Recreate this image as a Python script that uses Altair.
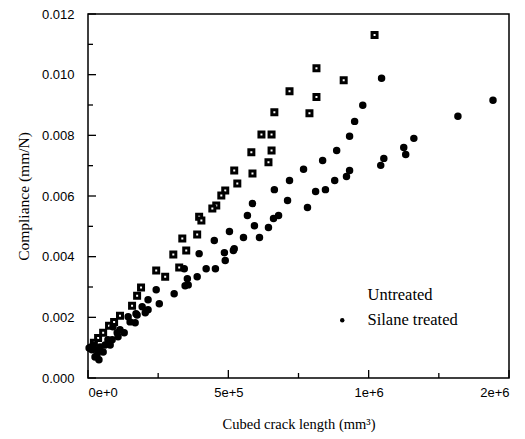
import altair as alt
import pandas as pd

# Untreated: cubed crack length (mm^3), compliance (mm/N)
untreated_x = [1021000, 814000, 911000, 718000, 814000, 664000, 789000, 618000, 654000,
               582000, 654000, 643000, 521000, 586000, 532000, 489000, 475000, 457000,
               443000, 396000, 404000, 336000, 389000, 304000, 350000, 243000, 275000,
               325000, 189000, 175000, 157000, 114000, 93000, 75000, 54000, 36000, 21000, 14000]
untreated_y = [0.01131, 0.01021, 0.00982, 0.00945, 0.00926, 0.00876, 0.00873, 0.00803, 0.00803,
               0.00744, 0.00750, 0.00711, 0.00684, 0.00674, 0.00641, 0.00618, 0.00602, 0.00569,
               0.00559, 0.00532, 0.00519, 0.00460, 0.00473, 0.00407, 0.00420, 0.00354, 0.00334,
               0.00364, 0.00298, 0.00271, 0.00238, 0.00205, 0.00185, 0.00172, 0.00149, 0.00132,
               0.00116, 0.00099]

silane_x = [1443000, 1318000, 1161000, 1125000, 1132000, 1054000, 1043000, 1046000, 979000,
            950000, 932000, 886000, 836000, 768000, 718000, 664000, 586000, 568000, 504000,
            450000, 396000, 343000, 932000, 921000, 879000, 846000, 811000, 782000, 711000,
            679000, 661000, 643000, 593000, 611000, 554000, 521000, 518000, 486000, 489000,
            454000, 421000, 389000, 354000, 357000, 346000, 307000, 254000, 214000, 204000,
            243000, 214000, 193000, 171000, 143000, 168000, 129000, 107000, 86000, 61000,
            36000, 25000, 14000, 4000, 43000, 71000, 104000, 150000, 89000, 32000, 54000,
            18000, 175000, 114000, 79000, 39000]
silane_y = [0.00916, 0.00863, 0.00790, 0.00760, 0.00737, 0.00724, 0.00701, 0.00988, 0.00899,
            0.00846, 0.00797, 0.00750, 0.00717, 0.00688, 0.00651, 0.00621, 0.00575, 0.00536,
            0.00483, 0.00453, 0.00410, 0.00360, 0.00684, 0.00664, 0.00651, 0.00621, 0.00615,
            0.00562, 0.00585, 0.00536, 0.00526, 0.00496, 0.00502, 0.00463, 0.00463, 0.00426,
            0.00420, 0.00413, 0.00387, 0.00360, 0.00360, 0.00334, 0.00327, 0.00307, 0.00304,
            0.00278, 0.00245, 0.00225, 0.00215, 0.00291, 0.00258, 0.00235, 0.00212, 0.00202,
            0.00182, 0.00149, 0.00136, 0.00126, 0.00109, 0.00093, 0.00069, 0.00093, 0.00099,
            0.00102, 0.00126, 0.00149, 0.00185, 0.00169, 0.00076, 0.00086, 0.00109, 0.00208,
            0.00159, 0.00109, 0.00060]

x_major = [0, 500000, 1000000, 1500000]
x_minor = [250000, 750000, 1250000]
y_major = [0.0, 0.002, 0.004, 0.006, 0.008, 0.010, 0.012]
y_minor = [0.001, 0.003, 0.005, 0.007, 0.009, 0.011]
series_names = ["Untreated", "Silane treated"]

W, H = 421, 364
XMAX, YMAX = 1500000, 0.012
SANS = "Liberation Sans"
SERIF = "Liberation Serif"

xscale = alt.Scale(domain=[0, XMAX], nice=False, zero=False)
yscale = alt.Scale(domain=[0, YMAX], nice=False)

# one table for both series
points = pd.concat([
    pd.DataFrame({"x": untreated_x, "y": untreated_y, "series": series_names[0]}),
    pd.DataFrame({"x": silane_x, "y": silane_y, "series": series_names[1]}),
], ignore_index=True)

# inward tick segments (lengths in pixels converted to data units)
MAJ, MIN = 8, 5
ky = YMAX / H
kx = XMAX / W
tick_rows = []
for v in x_major:
    tick_rows.append({"x": v, "x2": v, "y": 0.0, "y2": MAJ * ky})
for v in x_minor:
    tick_rows.append({"x": v, "x2": v, "y": 0.0, "y2": MIN * ky})
for v in y_major:
    tick_rows.append({"x": 0.0, "x2": MAJ * kx, "y": v, "y2": v})
for v in y_minor:
    tick_rows.append({"x": 0.0, "x2": MIN * kx, "y": v, "y2": v})
ticks_df = pd.DataFrame(tick_rows)

xaxis = alt.Axis(values=x_major, format=".0e", ticks=False, grid=False, domain=False,
                 labelFont=SANS, labelFontSize=13, labelColor="black", labelPadding=8,
                 title="Cubed crack length (mm³)", titleFont=SERIF, titleFontSize=14.5,
                 titleFontWeight="normal", titleColor="black", titlePadding=18)
yaxis = alt.Axis(values=y_major, format=".3f", ticks=False, grid=False, domain=False,
                 labelFont=SANS, labelFontSize=13, labelColor="black", labelPadding=14,
                 title="Compliance (mm/N)", titleFont=SERIF, titleFontSize=15.5,
                 titleFontWeight="normal", titleColor="black", titlePadding=10)

legend = alt.Legend(title=None, orient="none", legendX=246, legendY=273,
                    labelFont=SERIF, labelFontSize=16.5, labelColor="black",
                    labelOffset=17, rowPadding=8, padding=0,
                    symbolStrokeColor="black", symbolStrokeWidth=3, symbolOpacity=1)

pts = alt.Chart(points).mark_point(filled=True, stroke="black", strokeWidth=3, opacity=1).encode(
    x=alt.X("x:Q", scale=xscale, axis=xaxis),
    y=alt.Y("y:Q", scale=yscale, axis=yaxis),
    shape=alt.Shape("series:N", scale=alt.Scale(domain=series_names, range=["square", "circle"]),
                    legend=legend),
    fill=alt.Fill("series:N", scale=alt.Scale(domain=series_names, range=["white", "black"]),
                  legend=legend),
    size=alt.Size("series:N", scale=alt.Scale(domain=series_names, range=[25, 20]),
                  legend=legend),
)

ticks = alt.Chart(ticks_df).mark_rule(color="black", strokeWidth=1.3).encode(
    x=alt.X("x:Q", scale=xscale), x2="x2:Q",
    y=alt.Y("y:Q", scale=yscale), y2="y2:Q",
)

chart = alt.layer(pts, ticks).properties(
    width=W, height=H,
    autosize=alt.AutoSizeParams(type="none"),
    padding={"left": 88, "top": 14, "right": 16, "bottom": 61},
).configure_view(stroke="black", strokeWidth=1.5)

chart.save("out.html", embed_options={"renderer": "svg", "actions": False})
